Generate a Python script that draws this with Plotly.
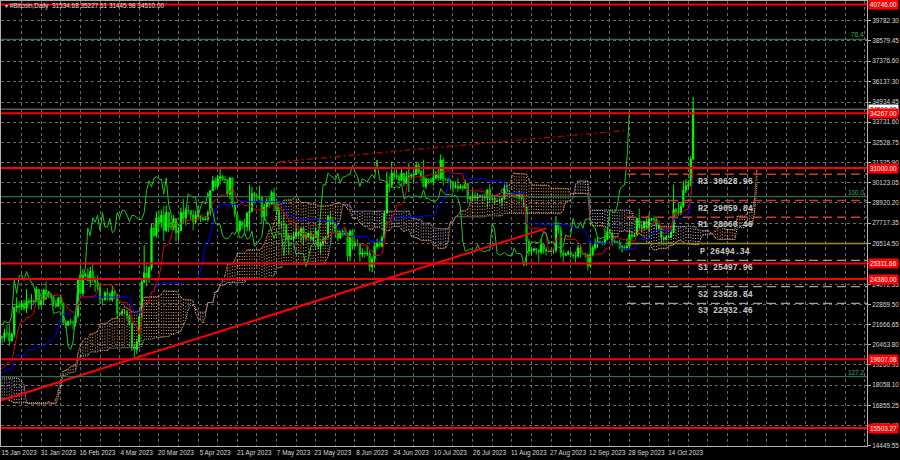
import numpy as np
import pandas as pd
import plotly.graph_objects as go

# ---------------- data (daily BTC) ----------------
symbol_title = "#Bitcoin,Daily"
first_date = "2022-10-30"
first_open = 20810.0

close = [
    20630, 20490,
    20480, 20160, 20210, 21150, 21300, 20900, 20600, 18540, 15880, 17590,
    17070, 16810, 16330, 16620, 16900, 16660, 16690, 16700, 16700, 16280,
    15780, 16190, 16600, 16600, 16520, 16460, 16440, 16220, 16440, 17170,
    16970, 17090, 16890, 17110, 16970, 17090, 16840, 17220, 17130, 17130,
    17090, 17210, 17780, 17810, 17360, 16630, 16780, 16740, 16440, 16900,
    16820, 16830, 16790, 16840, 16830, 16920, 16710, 16550, 16640, 16600, 16540,
    16620, 16670, 16670, 16850, 16830, 16950, 16940, 17130, 17180, 17440,
    17940, 18850, 19930, 20960, 20880, 21170, 21160, 20690, 21090, 22680,
    22780, 22710, 22920, 22630, 23060, 23010, 23080, 23030, 23770, 22840, 23130,
    23730, 23490, 23430, 23330, 22940, 22760, 23260, 22960, 21800, 21630,
    21860, 21790, 21780, 22200, 24330, 23520, 24570, 24630, 24290, 24840,
    24440, 24190, 23950, 23200, 23160, 23550, 23490, 23150,
    23650, 23480, 22360, 22350, 22430, 22410, 22200, 21720, 20360, 20190,
    20630, 22160, 24200, 24750, 24380, 25060, 27420, 26970, 28040, 27770,
    28180, 27270, 28350, 27490, 27490, 27990, 27140, 27270, 28350, 28030, 28480,
    28460, 28200, 27800, 28170, 28170, 28040, 27920, 27950, 28330, 29650,
    30240, 29890, 30400, 30490, 30320, 30320, 29450, 30400, 28820, 28250,
    27280, 27820, 27590, 27520, 28310, 28420, 29470, 29340, 29250, 29270,
    28090, 28680, 29030, 28850, 29530, 28900, 28450, 27690, 27650, 27620,
    26990, 26800, 26780, 26930, 27170, 27030, 27400, 26830, 26890, 27120,
    26750, 26850, 27230, 26330, 26480, 26720, 26870, 28090, 27750, 27700, 27210,
    26820, 27250, 27070, 27120, 25760, 27240, 26350, 26500, 26480, 25850,
    25940, 25900, 25920, 25120, 25580, 26330, 26510, 26340, 26840, 28310,
    30000, 29990, 30700, 30550, 30470, 30270, 30690, 30090, 30450, 30480,
    30590, 30620, 31160, 30770, 30500, 29900, 30350, 30290, 30170, 30410,
    30620, 30390, 31480, 30320, 30300, 30240, 30140, 29860, 29910, 29800,
    29910, 29800, 30080, 29180, 29230, 29350, 29220, 29310, 29350, 29280, 29230,
    29700, 29180, 29180, 29070, 29040, 29050, 29180, 29770, 29560, 29430,
    29400, 29420, 29280, 29410, 29170, 28700, 26630, 26050, 26100, 26190,
    26120, 25980, 26440, 26160, 26060, 26010, 26090, 26100, 27720, 27300, 25930,
    25800, 25870, 25970, 25820, 25780, 25750, 26240, 25900, 25900, 25840,
    25160, 25840, 26230, 26540, 26600, 26570, 26530, 26760, 27210, 27130,
    26570, 26580, 26580, 26250, 26300, 26220, 26350, 27020, 26910, 26970,
    27990, 27500, 27430, 27790, 27410, 27950, 27970, 27940, 27590, 27390,
    26870, 26760, 26860, 26860, 27160, 28520, 28410, 28330, 28720, 29680,
    29920, 29990, 31534.68, 34510.00,
]

high = [
    20900, 20830,
    20680, 20780, 20390, 21290, 21470, 21360, 21050, 20660, 18580, 18150,
    17650, 17100, 16950, 17150, 17100, 16940, 16740, 17000, 16800, 16750,
    16300, 16250, 16700, 16780, 16600, 16680, 16600, 16480, 16540, 17230,
    17320, 17100, 17150, 17200, 17400, 17110, 17130, 17290, 17350, 17220,
    17250, 17240, 18000, 18380, 17850, 17520, 16800, 16860, 16820, 17040,
    16910, 16860, 16950, 16870, 16860, 16950, 16960, 16770, 16650, 16640, 16630,
    16630, 16760, 16760, 17000, 16880, 17000, 16970, 17170, 17390, 17480,
    18000, 19100, 19960, 21260, 21000, 21420, 21620, 21640, 21180, 22750,
    23300, 23060, 23140, 23150, 23780, 23240, 23480, 23160, 23950, 23780, 23300,
    23800, 24230, 23680, 23570, 23420, 23140, 23320, 23440, 22990, 21910,
    21900, 22050, 21890, 22310, 24380, 25250, 24980, 24750, 25010, 25120,
    25250, 24470, 24590, 24140, 23220, 23660, 23840, 23590,
    24000, 23780, 23480, 22420, 22610, 22600, 22540, 22270, 21800, 20300,
    20800, 22180, 24440, 26390, 25200, 25150, 27690, 27700, 28390, 28480,
    28530, 28750, 28770, 28390, 27790, 28200, 28030, 27480, 28630, 29160, 28640,
    28800, 28500, 28490, 28440, 28730, 28180, 28090, 28130, 28490, 29700,
    30520, 30440, 30580, 30990, 30600, 30540, 30330, 30470, 30420, 29020,
    28380, 27880, 27810, 28000, 28370, 30000, 29880, 29580, 29450, 29960,
    29330, 28870, 29230, 29340, 29670, 29820, 29150, 28650, 27820, 28320,
    27620, 27050, 27030, 27180, 27640, 27270, 27460, 27470, 27120, 27140,
    27270, 27050, 27480, 27210, 26620, 26920, 26930, 28200, 28430, 28040, 27840,
    27330, 27290, 27310, 27440, 27130, 27340, 27360, 26790, 26760, 26540,
    26200, 26060, 26380, 26080, 25740, 26460, 26770, 26670, 26980, 28390,
    30770, 30490, 31380, 30800, 31010, 30640, 31000, 30700, 30820, 31270,
    30680, 30780, 31380, 31320, 30880, 31500, 30450, 30380, 30430, 31030,
    30800, 30970, 31810, 31640, 30390, 30440, 30340, 30230, 30190, 30400,
    30050, 30000, 30310, 30100, 29350, 29680, 29560, 29520, 29410, 29430, 29510,
    29720, 30040, 29410, 29300, 29110, 29160, 29240, 30180, 30100, 29680,
    29510, 29470, 29450, 29660, 29450, 29240, 28750, 26770, 26280, 26260,
    26210, 26130, 26790, 26550, 26290, 26080, 26170, 26210, 28140, 27760, 27550,
    26110, 25980, 26110, 26090, 25860, 26010, 26430, 26420, 25940, 25960,
    25880, 26530, 26380, 26800, 26870, 26660, 26620, 27400, 27480, 27370,
    27150, 26740, 26630, 26740, 26410, 26390, 26830, 27300, 27220, 27090,
    28060, 28580, 27660, 27830, 28130, 28280, 28040, 28110, 28000, 27720,
    27480, 26870, 26990, 26970, 27290, 30000, 28610, 28990, 28920, 30220,
    30320, 30270, 31700, 35227.61,
]

low = [
    20550, 20250,
    20350, 20070, 20060, 20200, 21090, 20880, 20400, 17170, 15680, 15780,
    16400, 16720, 16250, 15830, 16550, 16420, 16400, 16550, 16550, 16200,
    15500, 15650, 16170, 16470, 16360, 16400, 16400, 16000, 16120, 16430,
    16870, 16800, 16850, 16880, 16900, 16910, 16680, 16740, 17080, 17090,
    17070, 16880, 17080, 17660, 17280, 16560, 16590, 16660, 16300, 16400,
    16740, 16560, 16750, 16790, 16730, 16790, 16620, 16470, 16500, 16360, 16470,
    16500, 16550, 16600, 16660, 16750, 16680, 16910, 16910, 17110, 17150,
    17320, 17910, 18720, 19880, 20550, 20650, 20900, 20400, 20670, 20900,
    22420, 22320, 22530, 22480, 22350, 22850, 22550, 22880, 23000, 22560, 22740,
    22850, 23380, 23240, 23260, 22770, 22650, 22730, 22720, 21700, 21460,
    21600, 21640, 21370, 21550, 22060, 23510, 23360, 24480, 24250, 23890,
    24180, 23630, 23650, 22880, 22800, 23080, 23110, 23030,
    23030, 23200, 21980, 22170, 22220, 22310, 21950, 21620, 20090, 19570,
    19920, 20400, 21920, 24130, 23950, 24190, 24900, 26870, 26860, 27200,
    27440, 26650, 27170, 27180, 27300, 27430, 26620, 26670, 27260, 27730, 27580,
    28250, 27880, 27280, 27690, 28000, 27760, 27820, 27880, 27810, 28170,
    29640, 29680, 29900, 30010, 30250, 30170, 29280, 29140, 28650, 28060,
    27170, 27150, 27360, 27000, 27230, 27240, 28400, 28880, 29060, 29080,
    27680, 27880, 28120, 28670, 28800, 28440, 28420, 27330, 27360, 26860,
    26780, 25870, 26710, 26610, 26790, 26860, 26600, 26400, 26670, 26880,
    26700, 26540, 26850, 26120, 25890, 26360, 26560, 26860, 27600, 27560, 26880,
    26630, 26800, 26930, 26960, 25430, 25440, 26140, 26330, 26320, 25430,
    25680, 25650, 25760, 24840, 24800, 25170, 26190, 26280, 26260, 26660,
    28270, 29540, 29820, 30280, 30310, 29960, 30210, 29920, 30050, 29570,
    30330, 30180, 30590, 30640, 30210, 29850, 29740, 30060, 30090, 29960,
    30300, 30230, 30260, 29960, 30250, 30070, 29700, 29540, 29760, 29590,
    29730, 29640, 29740, 28880, 29040, 29100, 29090, 29120, 29270, 29050, 29110,
    28650, 28960, 29090, 28800, 28960, 28990, 28700, 29120, 29380, 29350,
    29270, 29360, 29260, 29130, 29070, 28700, 25170, 25760, 25810, 25980,
    25830, 25380, 25840, 25870, 25780, 25990, 25980, 25880, 25930, 27080, 25670,
    25360, 25750, 25810, 25650, 25580, 25360, 25630, 25660, 25820, 25630,
    24900, 25140, 25770, 26130, 26230, 26480, 26390, 26410, 26680, 26800,
    26360, 26520, 26520, 26160, 25990, 26120, 26100, 26310, 26680, 26890,
    26950, 27330, 27170, 27250, 27370, 27200, 27850, 27750, 27280, 27300,
    26560, 26620, 26670, 26810, 26850, 27150, 28120, 28130, 28190, 28650,
    29490, 29690, 29900, 31445.98,
]

# horizontal levels and objects drawn by the analyst
red_levels = [40746.00, 34267.00, 31000.00, 25311.66, 24380.00, 19607.08, 15503.27]
bid_price = 34510.00
fib_names = ["76.4", "100.0", "127.2"]
fib_levels = [38673.0, 29291.0, 18561.0]
pivot_names = ["R3", "R2", "R1", "P", "S1", "S2", "S3"]
pivot_values = [30628.96, 29059.84, 28060.46, 26494.34, 25497.96, 23928.84, 22932.46]
pivot_start = "2023-09-27"
pivot_label_date = "2023-11-06"
trend_dates = ["2023-01-14", "2023-08-25"]
trend_prices = [17120.0, 27400.0]
channel_dates = ["2023-05-08", "2023-09-26"]
channel_prices = [31370.0, 33230.0]

y_ticks = [39782.30, 38579.45, 37376.60, 36137.30, 34934.45, 33731.60, 32528.75,
           31325.90, 30123.05, 28920.20, 27717.35, 26514.50, 25311.65, 24072.35,
           22869.50, 21666.65, 20463.80, 19260.95, 18058.10, 16855.25, 15652.40,
           14449.55]
x_label_start = "2023-01-15"
x_label_end = "2023-10-14"

# ---------------- derived series ----------------
dates = pd.date_range(first_date, periods=len(close), freq="D")
assert dates[-1] == pd.Timestamp("2023-10-24"), dates[-1]
assert len(high) == len(close) == len(low), (len(high), len(close), len(low))

c = pd.Series(close, index=dates, dtype=float)
h = pd.Series(high, index=dates, dtype=float)
l = pd.Series(low, index=dates, dtype=float)
o = c.shift(1)
o.iloc[0] = first_open

tenkan = (h.rolling(9).max() + l.rolling(9).min()) / 2
kijun = (h.rolling(26).max() + l.rolling(26).min()) / 2
span_a = (tenkan + kijun) / 2
span_b = (h.rolling(52).max() + l.rolling(52).min()) / 2
shift_dates = dates + pd.Timedelta(days=26)
chikou_dates = dates - pd.Timedelta(days=26)

up_x, up_y, dn_x, dn_y = [], [], [], []
for d, a, b in zip(shift_dates, span_a.values, span_b.values):
    if np.isnan(a) or np.isnan(b):
        continue
    if a >= b:
        up_x += [d, d, None]; up_y += [a, b, None]
    else:
        dn_x += [d, d, None]; dn_y += [a, b, None]

# ---------------- geometry of the MT window ----------------
PX_DAY = 2.451
plot_l, plot_r, plot_t, plot_b = 1, 867, 1, 446
x0 = pd.Timestamp(x_label_start) - pd.Timedelta(days=1 / PX_DAY)
x1 = x0 + pd.Timedelta(days=(plot_r - plot_l) / PX_DAY)
y_lo, y_hi = 14430.0, 40957.0

grid_vals = list(pd.date_range(x_label_start, x1, freq="8D"))
grid_text = [d.strftime("%-d %b %Y") if (i % 2 == 0 and d <= pd.Timestamp(x_label_end)) else ""
             for i, d in enumerate(grid_vals)]

SANDY = "#f4a460"
THISTLE = "#d8bfd8"
FONT = "Liberation Sans"
FS = 6.4

fig = go.Figure()

# cloud hatch
fig.add_trace(go.Scatter(x=up_x, y=up_y, mode="lines",
                         line=dict(color=SANDY, width=1, dash="1px,2px"), hoverinfo="skip"))
fig.add_trace(go.Scatter(x=dn_x, y=dn_y, mode="lines",
                         line=dict(color=THISTLE, width=1, dash="1px,2px"), hoverinfo="skip"))
fig.add_trace(go.Scatter(x=shift_dates, y=span_a, mode="lines",
                         line=dict(color=SANDY, width=1, dash="1px,1px")))
fig.add_trace(go.Scatter(x=shift_dates, y=span_b, mode="lines",
                         line=dict(color=THISTLE, width=1, dash="1px,1px")))

# candles
fig.add_trace(go.Candlestick(
    x=dates, open=o, high=h, low=l, close=c,
    increasing=dict(line=dict(color="#00ff00", width=1), fillcolor="#00ff00"),
    decreasing=dict(line=dict(color="#00d000", width=1), fillcolor="#008a00"),
    whiskerwidth=0, hoverinfo="skip"))

# ichimoku lines
fig.add_trace(go.Scatter(x=dates, y=kijun, mode="lines", line=dict(color="#0000ff", width=1)))
fig.add_trace(go.Scatter(x=dates, y=tenkan, mode="lines", line=dict(color="#e00000", width=1)))
fig.add_trace(go.Scatter(x=chikou_dates, y=c, mode="lines", line=dict(color="#22c822", width=1)))

# trend lines
fig.add_trace(go.Scatter(x=trend_dates, y=trend_prices, mode="lines",
                         line=dict(color="#ff0000", width=2)))
fig.add_trace(go.Scatter(x=channel_dates, y=channel_prices, mode="lines",
                         line=dict(color="#b00000", width=1.3, dash="6px,3px,2px,3px")))

shapes = []
annotations = []
# fibo levels
for name, v in zip(fib_names, fib_levels):
    shapes.append(dict(type="line", xref="paper", x0=0, x1=1, yref="y", y0=v, y1=v,
                       line=dict(color="#2e8b57", width=1)))
    annotations.append(dict(xref="paper", x=1, xanchor="right", yref="y", y=v, yanchor="bottom",
                            text=name, showarrow=False, xshift=-1, yshift=-1,
                            font=dict(family=FONT, size=FS, color="#3cb371")))
# bid line
shapes.append(dict(type="line", xref="paper", x0=0, x1=1, yref="y", y0=bid_price, y1=bid_price,
                   line=dict(color="#8a8a8a", width=1)))
# pivot levels
for name, v in zip(pivot_names, pivot_values):
    if name.startswith("R"):
        ln = dict(color="#c8401a", width=1.5, dash="9px,5px")
    elif name == "P":
        ln = dict(color="#a08c10", width=1.5)
    else:
        ln = dict(color="#a89898", width=1.2, dash="9px,5px")
    shapes.append(dict(type="line", xref="x", x0=pivot_start, x1=x1, yref="y", y0=v, y1=v, line=ln))
    annotations.append(dict(xref="x", x=pivot_label_date, xanchor="center", yref="y", y=v,
                            yanchor="top", yshift=-1, showarrow=False,
                            text=f"<b>{name} {v:.2f}</b>",
                            font=dict(family="Liberation Mono", size=8.3, color="#c8c8c8")))
# red horizontal levels
for v in red_levels:
    shapes.append(dict(type="line", xref="paper", x0=0, x1=1, yref="y", y0=v, y1=v,
                       line=dict(color="#ff0000", width=2)))

# right axis price labels
annotations.append(dict(xref="paper", x=1, xanchor="left", xshift=1, yref="y", y=bid_price,
                        yanchor="middle", text=f"{bid_price:.2f}", showarrow=False,
                        bgcolor="#ffffff", borderpad=1,
                        font=dict(family=FONT, size=FS, color="#000000")))
for v in red_levels:
    annotations.append(dict(xref="paper", x=1, xanchor="left", xshift=1, yref="y", y=v,
                            yanchor="middle", text=f"{v:.2f}", showarrow=False,
                            bgcolor="#ff0000", borderpad=1,
                            font=dict(family=FONT, size=FS, color="#ffffff")))

# title
annotations.append(dict(xref="paper", yref="paper", x=0, y=1, xanchor="left", yanchor="top",
                        xshift=2, yshift=1, showarrow=False,
                        text=f"▾ {symbol_title}  {o.iloc[-1]:.2f} {h.iloc[-1]:.2f} {l.iloc[-1]:.2f} {c.iloc[-1]:.2f}",
                        font=dict(family=FONT, size=FS, color="#e0e0e0")))

fig.update_layout(
    width=900, height=460,
    margin=dict(l=plot_l, r=900 - plot_r, t=plot_t, b=460 - plot_b, autoexpand=False),
    paper_bgcolor="#000000", plot_bgcolor="#000000",
    showlegend=False, hovermode=False,
    shapes=shapes, annotations=annotations,
    xaxis=dict(type="date", range=[x0, x1], rangeslider=dict(visible=False),
               tickmode="array", tickvals=grid_vals, ticktext=grid_text,
               ticklabelshift=17, ticks="", tickangle=0, automargin=False,
               tickfont=dict(family=FONT, size=FS, color="#d8d8d8"),
               showgrid=True, gridcolor="#6a6a6a", gridwidth=1, griddash="3px,3px",
               showline=True, linecolor="#b0b0b0", mirror=True, zeroline=False),
    yaxis=dict(side="right", range=[y_lo, y_hi], automargin=False,
               tickmode="array", tickvals=y_ticks, ticktext=[f"{v:.2f}" for v in y_ticks],
               ticks="outside", ticklen=3, tickcolor="#b0b0b0",
               tickfont=dict(family=FONT, size=FS, color="#d8d8d8"),
               showgrid=True, gridcolor="#6a6a6a", gridwidth=1, griddash="3px,3px",
               showline=True, linecolor="#b0b0b0", mirror=True, zeroline=False),
)

fig.write_html("out.html", config={"displayModeBar": False},
               post_script="document.body.style.margin='0';document.body.style.background='#000';")
